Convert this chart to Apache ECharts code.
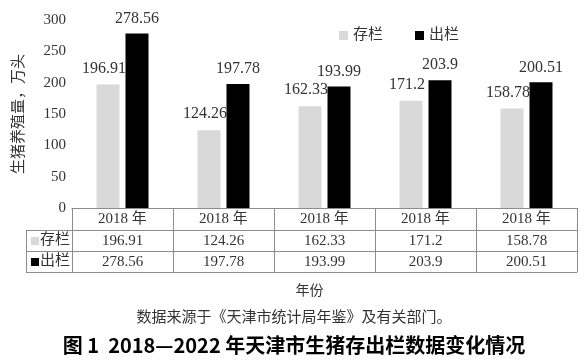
<!DOCTYPE html>
<html><head><meta charset="utf-8">
<script src="https://cdn.jsdelivr.net/npm/echarts@6/dist/echarts.min.js"></script>
<style>html,body{margin:0;padding:0;background:#fff}#c{width:588px;height:364px}</style>
</head><body><div id="c"></div>
<script>
const categories = ['2018 年','2018 年','2018 年','2018 年','2018 年'];
const stockName = '存栏';
const outName = '出栏';
const stockValues = [196.91, 124.26, 162.33, 171.2, 158.78];
const outValues = [278.56, 197.78, 193.99, 203.9, 200.51];
const yTicks = [0, 50, 100, 150, 200, 250, 300];

const SERIF = "'Liberation Serif','Times New Roman','Noto Sans CJK SC',serif";
const TXT = '#333';
const LINE = '#8c8c8c';
const GRAY = '#d9d9d9';
const BLACK = '#000';

const chart = echarts.init(document.getElementById('c'), null, {renderer: 'canvas'});

function tableAxis(idx, offset, values, showLabel) {
  return {
    type: 'category', gridIndex: 0, position: 'bottom', offset: offset,
    data: categories,
    axisLine: {show: true, lineStyle: {color: LINE, width: 1}},
    axisTick: {show: false},
    axisLabel: {show: showLabel, margin: 4, fontSize: 15, fontFamily: SERIF, color: TXT,
      formatter: (v, i) => values ? String(values[i]) : v},
    splitLine: {show: false}
  };
}

const option = {
  animation: false,
  grid: {left: 72, right: 11, top: 20, bottom: 156, containLabel: false},
  legend: {
    left: 334, top: 23, itemWidth: 9, itemHeight: 9, itemGap: 32,
    icon: 'rect',
    textStyle: {fontSize: 15, fontFamily: SERIF, color: TXT},
    data: [stockName, outName]
  },
  xAxis: [
    {
      type: 'category', position: 'bottom', data: categories,
      axisLine: {show: true, lineStyle: {color: LINE, width: 1}},
      axisTick: {show: true, length: 64, lineStyle: {color: LINE, width: 1}},
      axisLabel: {margin: 4, fontSize: 15, fontFamily: SERIF, color: TXT},
      name: '年份', nameLocation: 'middle', nameGap: 76,
      nameTextStyle: {fontSize: 14, fontFamily: SERIF, color: TXT, padding: [0, 30, 0, 0]}
    },
    tableAxis(1, 22, stockValues, true),
    tableAxis(2, 43, outValues, true),
    tableAxis(3, 64, null, false)
  ],
  yAxis: {
    type: 'value', min: yTicks[0], max: yTicks[yTicks.length - 1], interval: 50,
    axisLine: {show: false}, axisTick: {show: false}, splitLine: {show: false},
    axisLabel: {margin: 6, fontSize: 15, fontFamily: SERIF, color: TXT},
    name: '生猪养殖量，万头', nameLocation: 'middle', nameGap: 45,
    nameTextStyle: {fontSize: 15, fontFamily: SERIF, color: TXT}
  },
  series: [
    {
      name: stockName, type: 'bar', data: stockValues, xAxisIndex: 0,
      barWidth: 23, barGap: '26%',
      itemStyle: {color: GRAY},
      label: {show: true, position: 'top', distance: 8, offset: [-4, 0],
        fontSize: 16, fontFamily: SERIF, color: TXT}
    },
    {
      name: outName, type: 'bar', data: outValues, xAxisIndex: 0,
      barWidth: 23, barGap: '26%',
      itemStyle: {color: BLACK},
      label: {show: true, position: 'top', distance: 7,
        fontSize: 16, fontFamily: SERIF, color: TXT}
    }
  ],
  graphic: [
    {type: 'line', shape: {x1: 26, y1: 230.5, x2: 72, y2: 230.5}, style: {stroke: LINE, lineWidth: 1}},
    {type: 'line', shape: {x1: 26, y1: 251.5, x2: 72, y2: 251.5}, style: {stroke: LINE, lineWidth: 1}},
    {type: 'line', shape: {x1: 26, y1: 272.5, x2: 72, y2: 272.5}, style: {stroke: LINE, lineWidth: 1}},
    {type: 'line', shape: {x1: 26.5, y1: 230, x2: 26.5, y2: 273}, style: {stroke: LINE, lineWidth: 1}},
    {type: 'rect', shape: {x: 31, y: 237, width: 8, height: 8}, style: {fill: GRAY}},
    {type: 'text', left: 40, top: 233, style: {text: stockName, fontSize: 15, fontFamily: SERIF, fill: TXT}},
    {type: 'rect', shape: {x: 31, y: 258, width: 8, height: 8}, style: {fill: BLACK}},
    {type: 'text', left: 40, top: 254, style: {text: outName, fontSize: 15, fontFamily: SERIF, fill: TXT}},
    {type: 'text', left: 'center', top: 311, style: {text: '数据来源于《天津市统计局年鉴》及有关部门。', fontSize: 15, fontFamily: SERIF, fill: TXT}},
    {type: 'text', left: 'center', top: 335, style: {text: '图 1  2018—2022 年天津市生猪存出栏数据变化情况', fontSize: 20, fontWeight: 'bold', fontFamily: "'Noto Sans CJK SC',sans-serif", fill: '#000'}}
  ]
};
chart.setOption(option);
</script>
</body></html>
